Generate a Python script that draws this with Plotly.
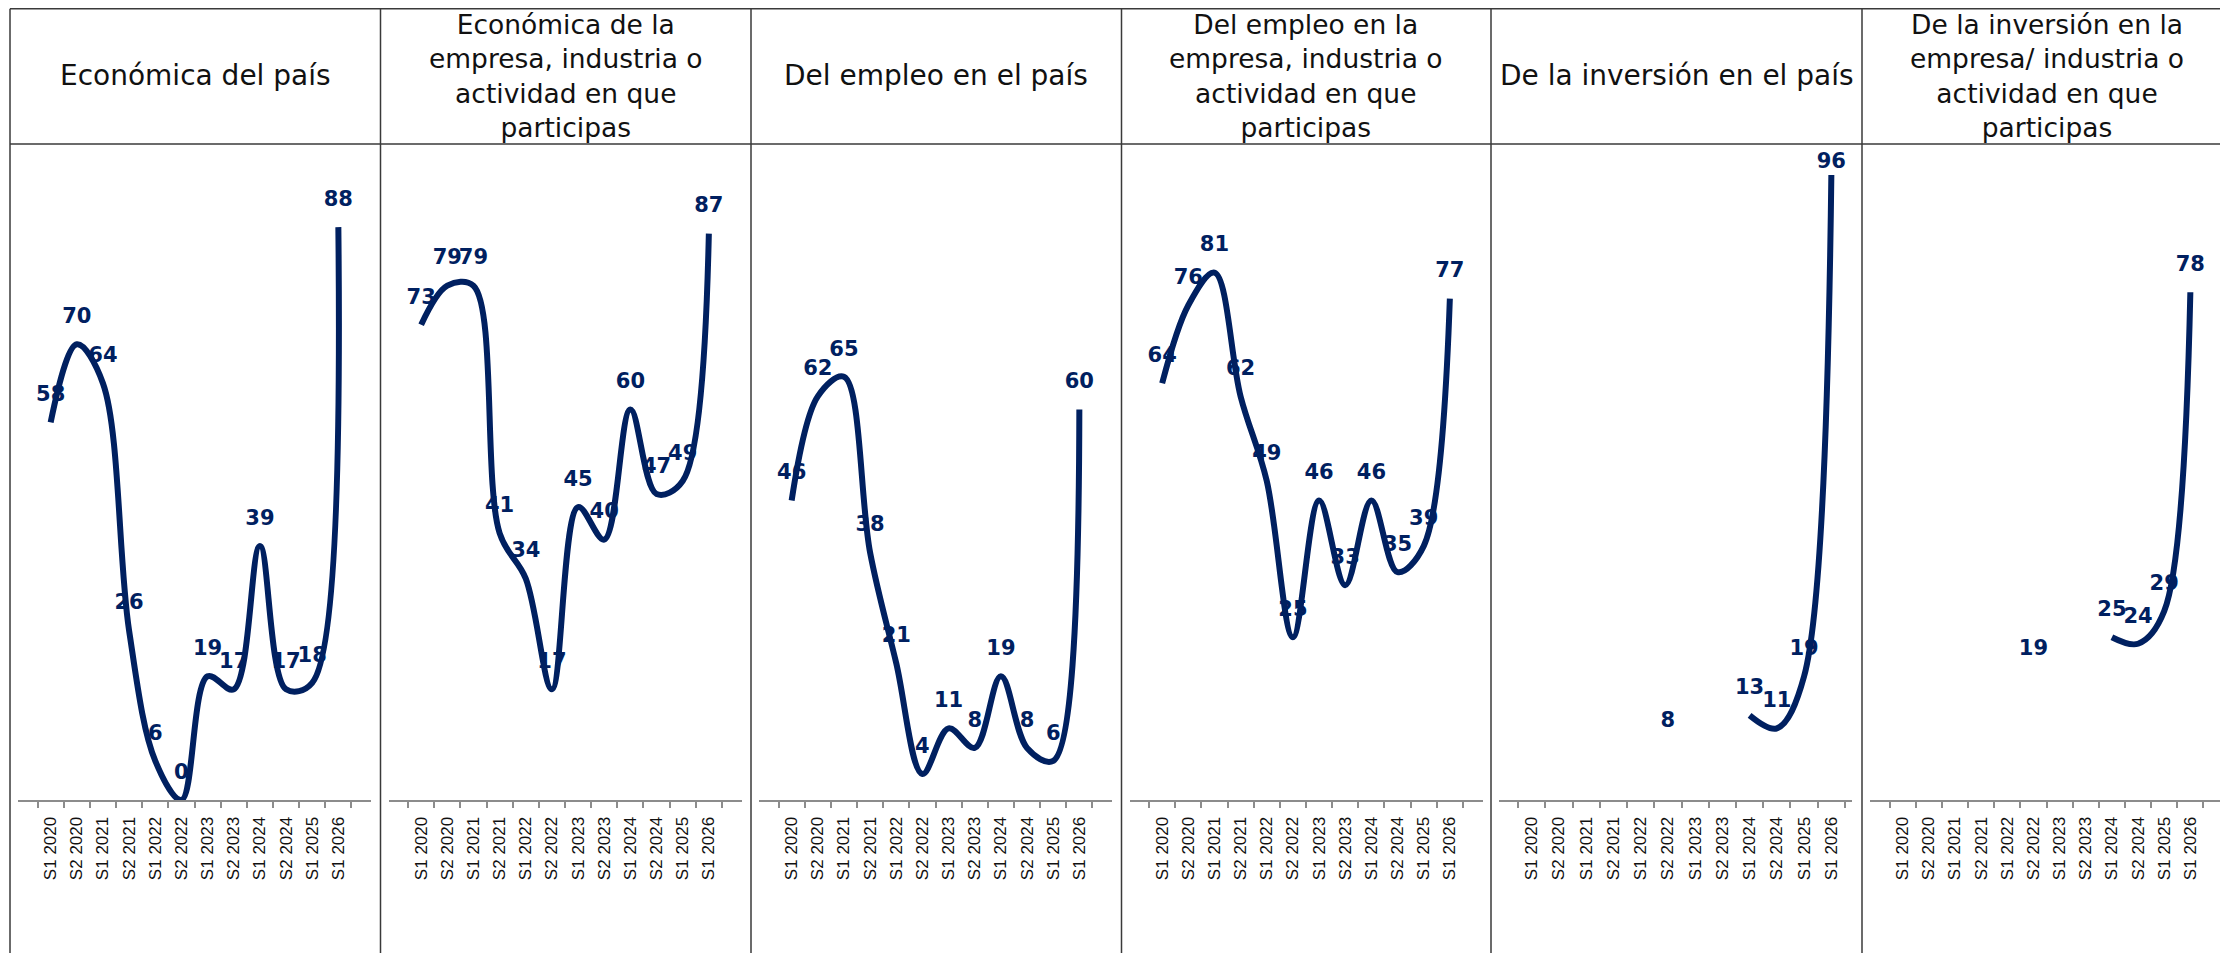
import plotly.graph_objects as go

categories = ["S1 2020", "S2 2020", "S1 2021", "S2 2021", "S1 2022", "S2 2022",
              "S1 2023", "S2 2023", "S1 2024", "S2 2024", "S1 2025", "S1 2026"]

headers = [
    "Económica del país",
    "Económica de la<br>empresa, industria o<br>actividad en que<br>participas",
    "Del empleo en el país",
    "Del empleo en la<br>empresa, industria o<br>actividad en que<br>participas",
    "De la inversión en el país",
    "De la inversión en la<br>empresa/ industria o<br>actividad en que<br>participas",
]

economica_pais = [58, 70, 64, 26, 6, 0, 19, 17, 39, 17, 18, 88]
economica_empresa = [73, 79, 79, 41, 34, 17, 45, 40, 60, 47, 49, 87]
empleo_pais = [46, 62, 65, 38, 21, 4, 11, 8, 19, 8, 6, 60]
empleo_empresa = [64, 76, 81, 62, 49, 25, 46, 33, 46, 35, 39, 77]
inversion_pais = [None, None, None, None, None, 8, None, None, 13, 11, 19, 96]
inversion_empresa = [None, None, None, None, None, 19, None, None, 25, 24, 29, 78]

series = [economica_pais, economica_empresa, empleo_pais,
          empleo_empresa, inversion_pais, inversion_empresa]

W, H = 2228, 953
OFF = 8  # page offset of the plot div
NAVY = "#002060"
BORDER = "#3a3a3a"
seps = [s - OFF for s in (10, 380.5, 751, 1121.5, 1491, 1862, 2232)]
top_y, head_y = max(7 - OFF, 0.75), 144 - OFF
y_zero_px, y_100_px = 800 - OFF, 149 - OFF
head_center = 76 - OFF

fig = go.Figure()
layout = dict(
    width=W, height=H, margin=dict(l=0, r=0, t=0, b=0),
    paper_bgcolor="white", plot_bgcolor="white", showlegend=False,
)

shapes = []
annotations = []
for i, vals in enumerate(series):
    n = i + 1
    xa = "x" if n == 1 else f"x{n}"
    ya = "y" if n == 1 else f"y{n}"
    x0 = (seps[i] + 8) / W
    x1 = (seps[i] + 361) / W
    layout["xaxis" if n == 1 else f"xaxis{n}"] = dict(
        domain=[x0, x1], anchor=ya, type="category",
        categoryorder="array", categoryarray=categories,
        tickson="boundaries", ticks="outside", ticklen=6, tickwidth=2,
        tickcolor="#8c8c8c", showline=True, linecolor="#8c8c8c", linewidth=2,
        tickangle=-90, ticklabelstandoff=8,
        tickfont=dict(family="Liberation Sans, Arial", size=17, color="#111111"),
        showgrid=False, zeroline=False, fixedrange=True,
    )
    layout["yaxis" if n == 1 else f"yaxis{n}"] = dict(
        domain=[1 - y_zero_px / H, 1 - y_100_px / H], anchor=xa,
        range=[0, 100], visible=False, showgrid=False, zeroline=False,
    )
    texts = [("" if v is None else str(v)) for v in vals]
    # labels near the top of the plot area are pulled down to stay inside it
    label_gap = [(1 if (v is not None and v > 90) else 24) for v in vals]
    fig.add_trace(go.Scatter(
        x=categories, y=vals, xaxis=xa, yaxis=ya,
        mode="markers+text", text=texts, textposition="top center",
        marker=dict(size=label_gap, opacity=0, color=NAVY),
        textfont=dict(family="DejaVu Sans", size=21, color=NAVY, weight="bold"),
        hoverinfo="skip", cliponaxis=False,
    ))
    fig.add_trace(go.Scatter(
        x=categories, y=vals, xaxis=xa, yaxis=ya,
        mode="lines", line=dict(color=NAVY, width=6, shape="spline", smoothing=1),
        connectgaps=False, hoverinfo="skip",
    ))
    multi = "<br>" in headers[i]
    annotations.append(dict(
        x=(seps[i] + seps[i + 1]) / 2 / W, y=1 - head_center / H,
        xref="paper", yref="paper",
        text=headers[i], showarrow=False, xanchor="center", yanchor="middle",
        align="center",
        font=dict(family="DejaVu Sans", size=(26.5 if multi else 28), color="#111111"),
    ))
    shapes.append(dict(type="line", xref="paper", yref="paper",
                       x0=seps[i] / W, x1=seps[i] / W, y0=1 - top_y / H, y1=0,
                       line=dict(color=BORDER, width=1.5)))

for yy in (top_y, head_y):
    shapes.append(dict(type="line", xref="paper", yref="paper",
                       x0=seps[0] / W, x1=1, y0=1 - yy / H, y1=1 - yy / H,
                       line=dict(color=BORDER, width=1.5)))

layout["shapes"] = shapes
layout["annotations"] = annotations
fig.update_layout(**layout)
fig.write_html("out.html")
